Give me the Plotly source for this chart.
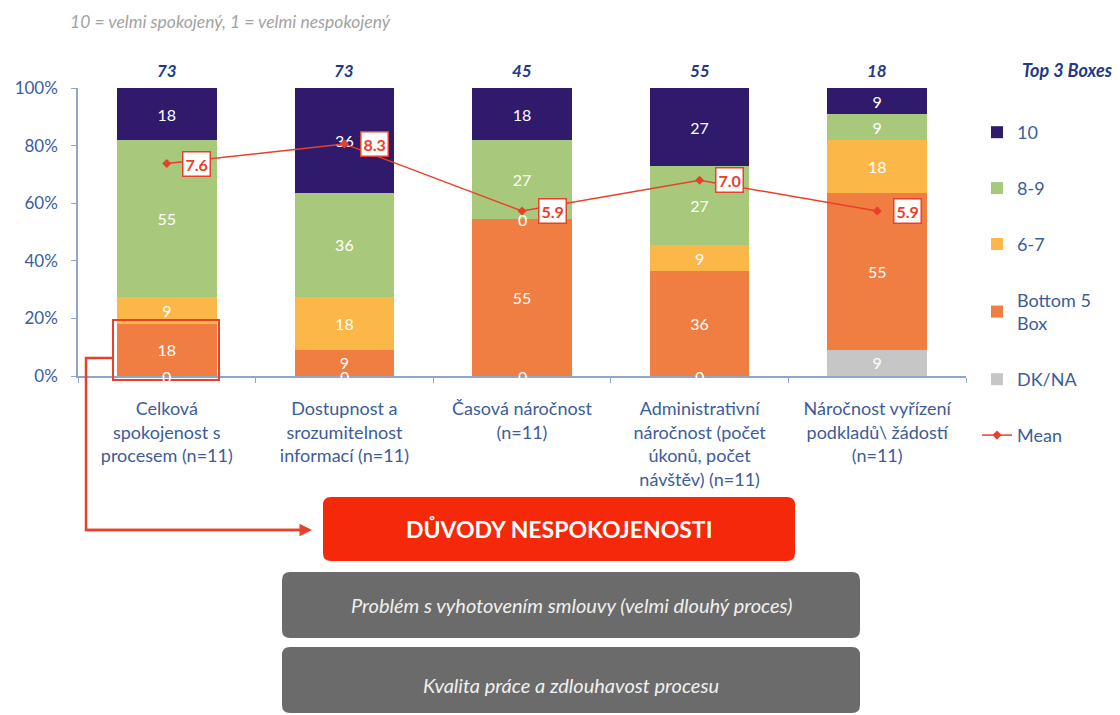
import plotly.graph_objects as go

# ---------------- data ----------------
categories = [
    "Celková<br>spokojenost s<br>procesem (n=11)",
    "Dostupnost a<br>srozumitelnost<br>informací (n=11)",
    "Časová náročnost<br>(n=11)",
    "Administrativní<br>náročnost (počet<br>úkonů, počet<br>návštěv) (n=11)",
    "Náročnost vyřízení<br>podkladů\\ žádostí<br>(n=11)",
]
dk_na = [0, 0, 0, 0, 9.1]
bottom5 = [18.2, 9.1, 54.5, 36.4, 54.5]
score_6_7 = [9.1, 18.2, 0, 9.1, 18.2]
score_8_9 = [54.5, 36.4, 27.3, 27.3, 9.1]
score_10 = [18.2, 36.4, 18.2, 27.3, 9.1]
top3_boxes = [73, 73, 45, 55, 18]
mean_score = [7.6, 8.3, 5.9, 7.0, 5.9]
y_ticks = [0, 20, 40, 60, 80, 100]
y_ticklabels = ["0%", "20%", "40%", "60%", "80%", "100%"]
reasons = [
    "Problém s vyhotovením smlouvy (velmi dlouhý proces)",
    "Kvalita práce a zdlouhavost procesu",
]

series = [
    ("DK/NA", dk_na, "#c6c6c6", 5),
    ("Bottom 5<br>Box", bottom5, "#f07d41", 4),
    ("6-7", score_6_7, "#fbb848", 3),
    ("8-9", score_8_9, "#a8c97b", 2),
    ("10", score_10, "#2f1a6b", 1),
]

FONT = "Lato"
BLUE = "#3d5c9a"
RED = "#e8402a"

# pixel -> paper helpers (plot area: x 78..966, y 88..376)
L, R, T, B = 78, 966, 88, 376
def fx(px):
    return (px - L) / (R - L)
def fy(py):
    return (B - py) / (B - T)

def rrect(x0, y0, x1, y1, r):
    pts = [
        ("M", [(x0 + r, y0)]),
        ("L", [(x1 - r, y0)]),
        ("Q", [(x1, y0), (x1, y0 + r)]),
        ("L", [(x1, y1 - r)]),
        ("Q", [(x1, y1), (x1 - r, y1)]),
        ("L", [(x0 + r, y1)]),
        ("Q", [(x0, y1), (x0, y1 - r)]),
        ("L", [(x0, y0 + r)]),
        ("Q", [(x0, y0), (x0 + r, y0)]),
    ]
    s = ""
    for cmd, ps in pts:
        s += cmd + " " + " ".join(f"{fx(a):.5f},{fy(b):.5f}" for a, b in ps) + " "
    return s + "Z"

fig = go.Figure()

for name, vals, color, rank in series:
    fig.add_trace(go.Bar(
        x=categories, y=vals, name=name,
        marker=dict(color=color, line=dict(width=0)),
        texttemplate="%{y:.0f}", textposition="inside", insidetextanchor="middle",
        textfont=dict(color="white", size=16, family=FONT),
        legendrank=rank, legendgroup=name,
        hoverinfo="x+y+name",
    ))

fig.add_trace(go.Scatter(
    x=categories, y=mean_score, name="Mean", yaxis="y2",
    mode="lines+markers",
    line=dict(color=RED, width=1.5),
    marker=dict(symbol="diamond", size=7, color=RED),
    legendrank=6, legendgroup="Mean",
))

annotations = []
# zero-value labels at their stacked positions
for j, cat in enumerate(categories):
    base = 0
    for name, vals, color, rank in series:
        if vals[j] == 0:
            annotations.append(dict(x=cat, y=base, xref="x", yref="y", text="0",
                                    showarrow=False, yanchor="middle",
                                    font=dict(color="white", size=16, family=FONT)))
        base += vals[j]

# top 3 boxes labels
for cat, v in zip(categories, top3_boxes):
    annotations.append(dict(x=cat, y=100, xref="x", yref="y", text=f"<b><i>{v}</i></b>",
                            showarrow=False, yanchor="bottom", yshift=5,
                            font=dict(color="#1f3a8a", size=17, family=FONT)))
annotations.append(dict(x=fx(1067), y=fy(70), xref="paper", yref="paper",
                        text="<b><i>Top 3 Boxes</i></b>", showarrow=False,
                        xanchor="center", yanchor="middle",
                        font=dict(color="#1f3a8a", size=18, family=FONT)))

# mean labels
for cat, m in zip(categories, mean_score):
    annotations.append(dict(x=cat, y=m, xref="x", yref="y2", text=f"<b>{m:.1f}</b>",
                            showarrow=False, xshift=30, bgcolor="white",
                            bordercolor=RED, borderwidth=1.5, borderpad=2,
                            font=dict(color=RED, size=16, family=FONT)))

# subtitle
annotations.append(dict(x=fx(68), y=fy(22), xref="paper", yref="paper",
                        text="<i>10 = velmi spokojený, 1 = velmi nespokojený</i>",
                        showarrow=False, xanchor="left", yanchor="middle",
                        font=dict(color="#a3a3a3", size=17.5, family=FONT)))

# arrow into the red box
annotations.append(dict(x=fx(312), y=fy(530), xref="paper", yref="paper",
                        ax=-227, ay=0, axref="pixel", ayref="pixel",
                        text="", showarrow=True, arrowhead=2, arrowsize=1,
                        arrowwidth=2.5, arrowcolor=RED))

# box headline and reasons
annotations.append(dict(x=fx(559), y=fy(529), xref="paper", yref="paper",
                        xanchor="center", yanchor="middle",
                        text="<b>DŮVODY NESPOKOJENOSTI</b>", showarrow=False,
                        font=dict(color="white", size=23, family=FONT)))
for text, yc in zip(reasons, [605, 685]):
    annotations.append(dict(x=fx(571), y=fy(yc), xref="paper", yref="paper",
                            xanchor="center", yanchor="middle",
                            text=f"<i>{text}</i>", showarrow=False,
                            font=dict(color="#f0f0f0", size=20, family=FONT)))

shapes = [
    # highlight rectangle around bottom segment of first bar
    dict(type="rect", xref="paper", yref="paper",
         x0=fx(113), x1=fx(219), y0=fy(380), y1=fy(320),
         line=dict(color=RED, width=2)),
    # connector line
    dict(type="path", xref="paper", yref="paper",
         path=f"M {fx(113)},{fy(358)} L {fx(86)},{fy(358)} L {fx(86)},{fy(530)} L {fx(300)},{fy(530)}",
         line=dict(color=RED, width=2.5)),
    # red headline box
    dict(type="path", xref="paper", yref="paper",
         path=rrect(323, 497, 795, 561, 8),
         fillcolor="#f5280a", line=dict(width=0)),
    # gray reason boxes
    dict(type="path", xref="paper", yref="paper",
         path=rrect(282, 572, 860, 638, 8),
         fillcolor="#6b6b6b", line=dict(width=0)),
    dict(type="path", xref="paper", yref="paper",
         path=rrect(282, 647, 860, 713, 8),
         fillcolor="#6b6b6b", line=dict(width=0)),
]

fig.update_layout(
    width=1120, height=715,
    margin=dict(l=L, r=1120 - R, t=T, b=715 - B, pad=0),
    barmode="stack", bargap=0.44,
    plot_bgcolor="white", paper_bgcolor="white",
    font=dict(family=FONT, color=BLUE, size=16),
    xaxis=dict(type="category", showline=True, linecolor="#8fa6cc", linewidth=1.5,
               ticks="outside", tickson="boundaries", ticklen=5, tickcolor="#8fa6cc",
               tickangle=0, ticklabelstandoff=16,
               tickfont=dict(size=18, color=BLUE, family=FONT), showgrid=False),
    yaxis=dict(range=[0, 100], tickvals=y_ticks, ticktext=y_ticklabels,
               showline=True, linecolor="#8fa6cc", linewidth=1.5,
               ticks="outside", ticklen=5, tickcolor="#8fa6cc", showgrid=False,
               ticklabelstandoff=10,
               zeroline=False, tickfont=dict(size=17, color=BLUE, family=FONT)),
    yaxis2=dict(range=[0, 10.3], overlaying="y", side="right", visible=False),
    legend=dict(x=fx(977), y=fy(114), xanchor="left", yanchor="top",
                tracegroupgap=29.5, itemwidth=30, maxheight=520,
                font=dict(size=18, color=BLUE, family=FONT),
                bgcolor="rgba(0,0,0,0)"),
    annotations=annotations,
    shapes=shapes,
)

fig.write_html("out.html")
